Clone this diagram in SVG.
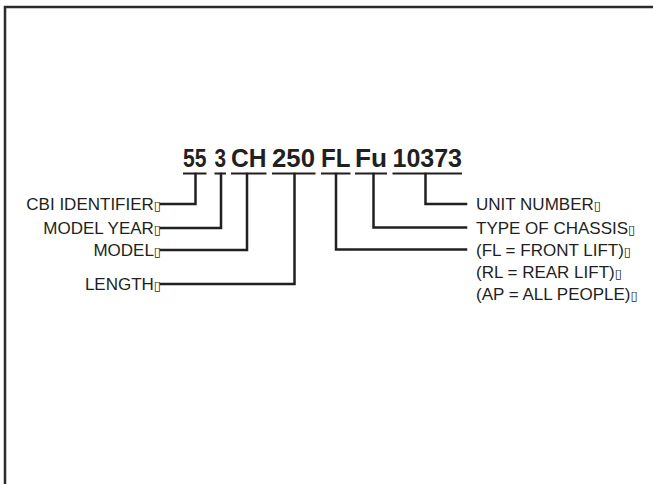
<svg xmlns="http://www.w3.org/2000/svg" width="653" height="484" viewBox="0 0 653 484">
<style>
.frame{stroke:#2b2b2b;stroke-width:2.5;fill:none}
.ln{stroke:#231f20;stroke-width:2.5;fill:none;stroke-linecap:square;stroke-linejoin:miter}
.ul{stroke:#231f20;stroke-width:2;fill:none}
.code{font-family:"Liberation Sans",Arial,sans-serif;font-weight:bold;font-size:25px;fill:#231f20}
.lbl{font-family:"Liberation Sans",Arial,sans-serif;font-size:17px;fill:#231f20}
.tofu{font-family:"DejaVu Sans",sans-serif;font-size:13px}
</style>
<rect width="653" height="484" fill="#ffffff"/>
<path class="frame" d="M5,484 V7 H653"/>
<g id="code">
<text class="code" x="183" y="167" textLength="23.5" lengthAdjust="spacingAndGlyphs">55</text>
<text class="code" x="214.5" y="167" textLength="11.5" lengthAdjust="spacingAndGlyphs">3</text>
<text class="code" x="231" y="167" textLength="35.5" lengthAdjust="spacingAndGlyphs">CH</text>
<text class="code" x="272" y="167" textLength="43" lengthAdjust="spacingAndGlyphs">250</text>
<text class="code" x="321" y="167" textLength="29.5" lengthAdjust="spacingAndGlyphs">FL</text>
<text class="code" x="355" y="167" textLength="32" lengthAdjust="spacingAndGlyphs">Fu</text>
<text class="code" x="392.5" y="167" textLength="69.5" lengthAdjust="spacingAndGlyphs">10373</text>
<path class="ul" d="M183,173.5 H206.5 M214.5,173.5 H226 M231,173.5 H266.5 M272,173.5 H315.5 M321,173.5 H350.5 M355,173.5 H387 M392.5,173.5 H462"/>
</g>
<g id="connectors">
<path class="ln" d="M195.5,174 V204 H161"/>
<path class="ln" d="M221,174 V228 H161"/>
<path class="ln" d="M247,174 V250 H161"/>
<path class="ln" d="M294.5,174 V284 H161"/>
<path class="ln" d="M425.5,174 V204 H466"/>
<path class="ln" d="M373.5,174 V227.5 H466"/>
<path class="ln" d="M336,174 V249.5 H466"/>
</g>
<g id="cbi"><text class="lbl" x="161" y="210" text-anchor="end">CBI IDENTIFIER<tspan class="tofu">▯</tspan></text></g>
<g id="year"><text class="lbl" x="161" y="234" text-anchor="end">MODEL YEAR<tspan class="tofu">▯</tspan></text></g>
<g id="model"><text class="lbl" x="161" y="256" text-anchor="end">MODEL<tspan class="tofu">▯</tspan></text></g>
<g id="length"><text class="lbl" x="161" y="290" text-anchor="end">LENGTH<tspan class="tofu">▯</tspan></text></g>
<g id="unit"><text class="lbl" x="476" y="210">UNIT NUMBER<tspan class="tofu">▯</tspan></text></g>
<g id="chassis">
<text class="lbl" x="476" y="233.5">TYPE OF CHASSIS<tspan class="tofu">▯</tspan></text>
<text class="lbl" x="476" y="255.5">(FL = FRONT LIFT)<tspan class="tofu">▯</tspan></text>
<text class="lbl" x="476" y="277.5">(RL = REAR LIFT)<tspan class="tofu">▯</tspan></text>
<text class="lbl" x="476" y="299.5">(AP = ALL PEOPLE)<tspan class="tofu">▯</tspan></text>
</g>
</svg>
